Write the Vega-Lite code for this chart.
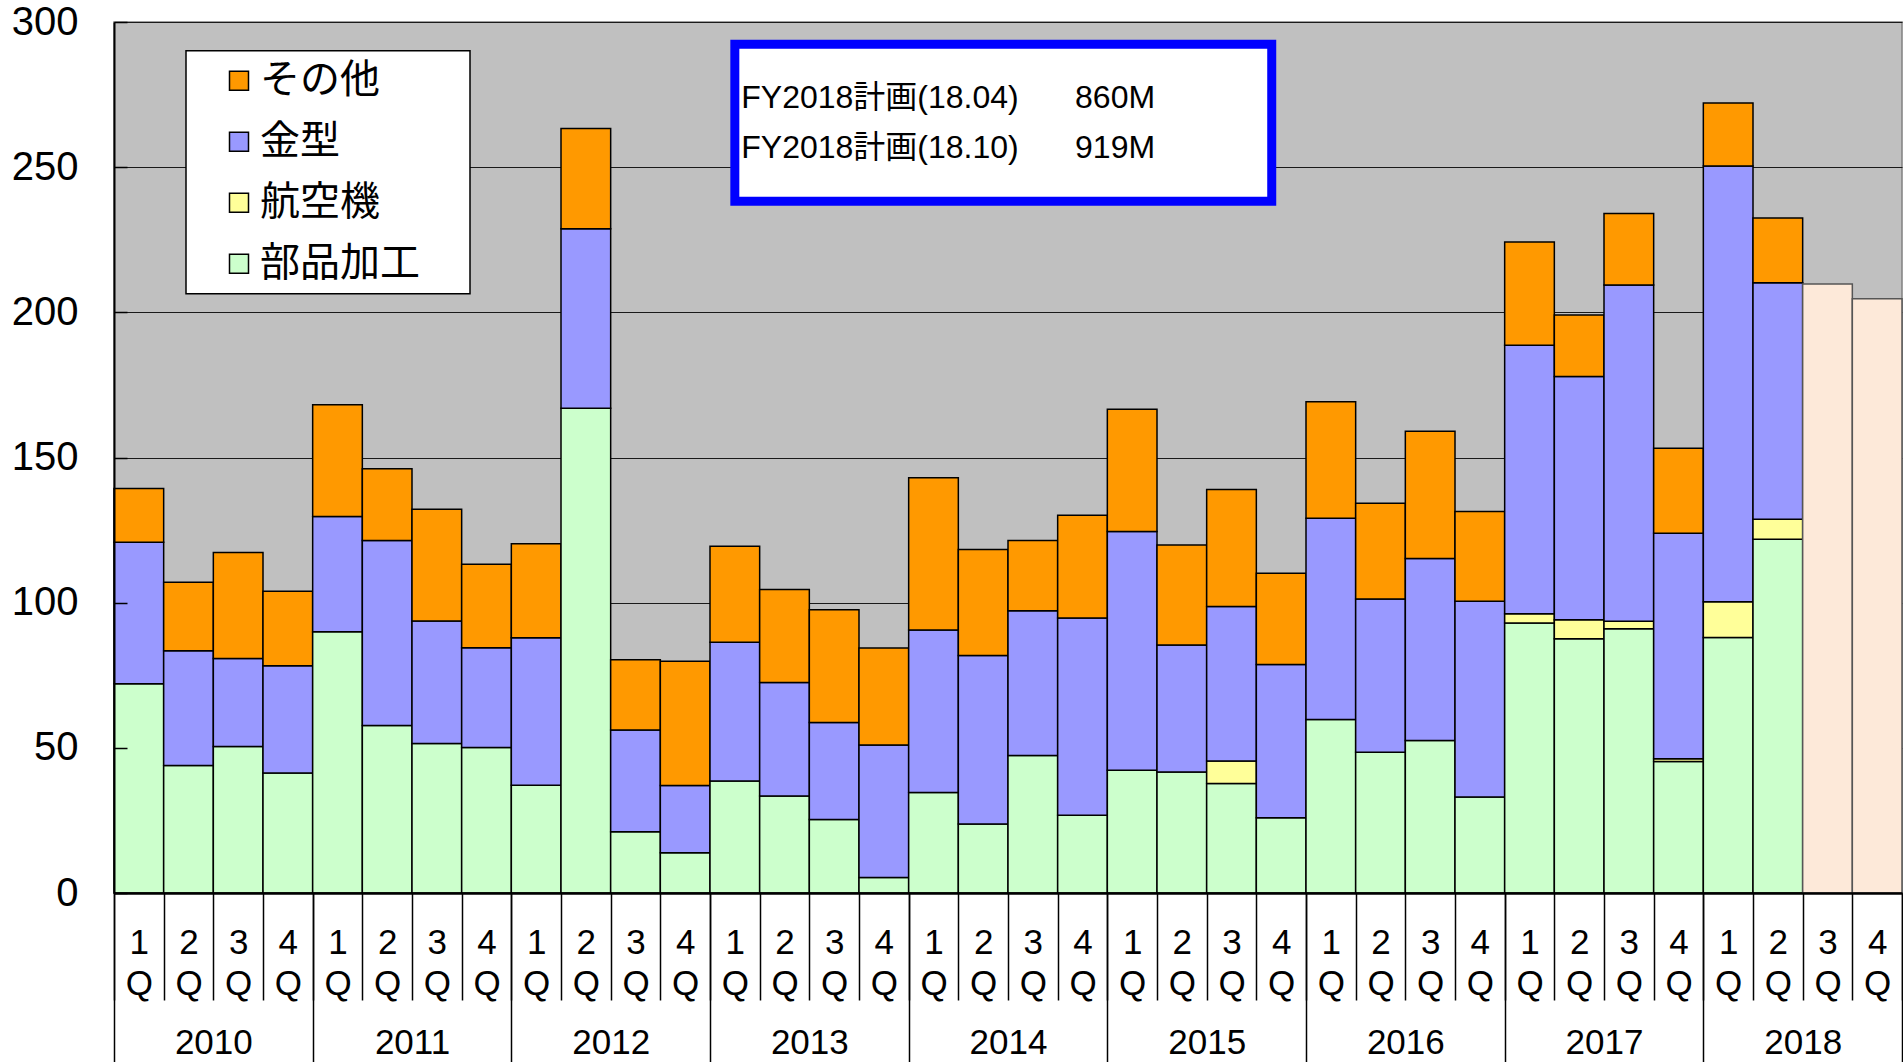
{
  "$schema": "https://vega.github.io/schema/vega-lite/v6.json",
  "width": 1788,
  "height": 871,
  "autosize": {"type": "none"},
  "padding": {"left": 114, "top": 22, "right": 1, "bottom": 169},
  "background": "white",
  "config": {
    "view": {"fill": "#C0C0C0", "stroke": "#808080", "strokeWidth": 1.5},
    "font": "Liberation Sans",
    "legend": {"strokeWidth": 1.5}
  },
  "datasets": {
    "sales": [
      {"period": "2010-1", "部品加工": 72.1, "航空機": 0, "金型": 48.7, "その他": 18.5},
      {"period": "2010-2", "部品加工": 43.9, "航空機": 0, "金型": 39.5, "その他": 23.6},
      {"period": "2010-3", "部品加工": 50.5, "航空機": 0, "金型": 30.3, "その他": 36.5},
      {"period": "2010-4", "部品加工": 41.3, "航空機": 0, "金型": 37.0, "その他": 25.6},
      {"period": "2011-1", "部品加工": 90.0, "航空機": 0, "金型": 39.7, "その他": 38.5},
      {"period": "2011-2", "部品加工": 57.7, "航空機": 0, "金型": 63.7, "その他": 24.7},
      {"period": "2011-3", "部品加工": 51.5, "航空機": 0, "金型": 42.2, "その他": 38.5},
      {"period": "2011-4", "部品加工": 50.1, "航空機": 0, "金型": 34.4, "その他": 28.7},
      {"period": "2012-1", "部品加工": 37.1, "航空機": 0, "金型": 50.8, "その他": 32.4},
      {"period": "2012-2", "部品加工": 167.0, "航空機": 0, "金型": 61.8, "その他": 34.5},
      {"period": "2012-3", "部品加工": 21.1, "航空機": 0, "金型": 35.0, "その他": 24.2},
      {"period": "2012-4", "部品加工": 13.9, "航空機": 0, "金型": 23.1, "その他": 42.8},
      {"period": "2013-1", "部品加工": 38.6, "航空機": 0, "金型": 47.8, "その他": 33.0},
      {"period": "2013-2", "部品加工": 33.4, "航空機": 0, "金型": 39.1, "その他": 32.0},
      {"period": "2013-3", "部品加工": 25.3, "航空機": 0, "金型": 33.4, "その他": 38.9},
      {"period": "2013-4", "部品加工": 5.3, "航空機": 0, "金型": 45.7, "その他": 33.4},
      {"period": "2014-1", "部品加工": 34.6, "航空機": 0, "金型": 56.0, "その他": 52.4},
      {"period": "2014-2", "部品加工": 23.8, "航空機": 0, "金型": 58.0, "その他": 36.5},
      {"period": "2014-3", "部品加工": 47.4, "航空機": 0, "金型": 49.8, "その他": 24.2},
      {"period": "2014-4", "部品加工": 26.8, "航空機": 0, "金型": 67.9, "その他": 35.4},
      {"period": "2015-1", "部品加工": 42.3, "航空機": 0, "金型": 82.2, "その他": 42.1},
      {"period": "2015-2", "部品加工": 41.7, "航空機": 0, "金型": 43.7, "その他": 34.5},
      {"period": "2015-3", "部品加工": 37.7, "航空機": 7.8, "金型": 53.2, "その他": 40.3},
      {"period": "2015-4", "部品加工": 25.9, "航空機": 0, "金型": 52.8, "その他": 31.4},
      {"period": "2016-1", "部品加工": 59.8, "航空機": 0, "金型": 69.3, "その他": 40.1},
      {"period": "2016-2", "部品加工": 48.5, "航空機": 0, "金型": 52.8, "その他": 32.9},
      {"period": "2016-3", "部品加工": 52.5, "航空機": 0, "金型": 62.7, "その他": 43.8},
      {"period": "2016-4", "部品加工": 33.1, "航空機": 0, "金型": 67.4, "その他": 30.9},
      {"period": "2017-1", "部品加工": 93.0, "航空機": 3.2, "金型": 92.5, "その他": 35.5},
      {"period": "2017-2", "部品加工": 87.6, "航空機": 6.5, "金型": 83.8, "その他": 21.2},
      {"period": "2017-3", "部品加工": 91.0, "航空機": 2.6, "金型": 115.8, "その他": 24.6},
      {"period": "2017-4", "部品加工": 45.3, "航空機": 0.9, "金型": 77.7, "その他": 29.3},
      {"period": "2018-1", "部品加工": 88.0, "航空機": 12.3, "金型": 150.1, "その他": 21.7},
      {"period": "2018-2", "部品加工": 121.8, "航空機": 6.9, "金型": 81.5, "その他": 22.3}
    ],
    "plan": [
      {"period": "2018-3", "plan": 209.8},
      {"period": "2018-4", "plan": 204.7}
    ],
    "notes": [
      {"plan": "FY2018計画(18.04)", "amount": "860M"},
      {"plan": "FY2018計画(18.10)", "amount": "919M"}
    ]
  },
  "resolve": {"axis": {"x": "independent", "y": "independent"}},
  "layer": [
    {
      "data": {"name": "sales"},
      "transform": [
        {"fold": ["部品加工", "航空機", "金型", "その他"], "as": ["segment", "value"]},
        {"filter": "datum.value > 0"},
        {"calculate": "indexof(['部品加工','航空機','金型','その他'], datum.segment)", "as": "stackOrder"}
      ],
      "mark": {"type": "bar", "stroke": "black", "strokeWidth": 1.5},
      "encoding": {
        "x": {
          "field": "period", "type": "nominal", "sort": null,
          "scale": {
            "domain": ["2010-1","2010-2","2010-3","2010-4","2011-1","2011-2","2011-3","2011-4","2012-1","2012-2","2012-3","2012-4","2013-1","2013-2","2013-3","2013-4","2014-1","2014-2","2014-3","2014-4","2015-1","2015-2","2015-3","2015-4","2016-1","2016-2","2016-3","2016-4","2017-1","2017-2","2017-3","2017-4","2018-1","2018-2","2018-3","2018-4"],
            "paddingInner": 0, "paddingOuter": 0
          },
          "axis": {
            "title": null, "orient": "bottom", "grid": false,
            "tickBand": "extent", "tickSize": 107, "tickColor": "black", "tickWidth": 1.5,
            "domain": true, "domainColor": "black", "domainWidth": 2.5,
            "labelExpr": "isString(datum.value) ? [slice(datum.value, 5), 'Q'] : ''",
            "labelFont": "Liberation Sans", "labelFontSize": 35, "labelColor": "black",
            "labelLineHeight": 41, "labelPadding": -75, "labelAngle": 0, "zindex": 1
          }
        },
        "y": {
          "field": "value", "type": "quantitative", "stack": "zero",
          "scale": {"domain": [0, 300], "nice": false},
          "axis": {
            "title": null, "orient": "left", "grid": true, "gridColor": "#1a1a1a", "gridWidth": 1.2,
            "values": [0, 50, 100, 150, 200, 250, 300],
            "labels": false, "ticks": false, "domain": false, "zindex": 0
          }
        },
        "color": {
          "field": "segment", "type": "nominal",
          "scale": {"domain": ["その他", "金型", "航空機", "部品加工"], "range": ["#FF9900", "#9999FF", "#FFFF99", "#CCFFCC"]},
          "legend": {
            "orient": "none", "legendX": 72, "legendY": 28.7, "title": null,
            "fillColor": "white", "strokeColor": "black", "padding": 10,
            "symbolType": "square", "symbolSize": 361, "symbolStrokeColor": "black", "symbolStrokeWidth": 1.5,
            "symbolOffset": 23, "symbolOpacity": 1, "labelOffset": 1,
            "labelFont": "Noto Sans CJK JP", "labelFontSize": 40, "labelColor": "black", "labelLimit": 400,
            "rowPadding": 21, "labelExpr": "datum.label + '\u3000\u200B'"
          }
        },
        "order": {"field": "stackOrder", "type": "quantitative", "sort": "ascending"}
      }
    },
    {
      "data": {"name": "plan"},
      "mark": {"type": "bar", "fill": "#FDE9D9", "stroke": "#555555", "strokeWidth": 1.5},
      "encoding": {
        "x": {
          "field": "period", "type": "nominal", "sort": null,
          "axis": {
            "title": null, "orient": "bottom", "grid": false,
            "values": ["2010-1","2010-4","2011-4","2012-4","2013-4","2014-4","2015-4","2016-4","2017-4","2018-4"],
            "tickBand": "extent", "tickSize": 169, "tickColor": "black", "tickWidth": 1.5,
            "tickOpacity": {"condition": {"test": "datum.value === '2010-1'", "value": 0}, "value": 1},
            "domain": false,
            "labelExpr": "isString(datum.value) && slice(datum.value, 5) == '4' ? slice(datum.value, 0, 4) : ''",
            "labelOffset": -74.5, "labelPadding": -37,
            "labelFont": "Liberation Sans", "labelFontSize": 35, "labelColor": "black", "labelAngle": 0, "zindex": 1
          }
        },
        "y": {
          "field": "plan", "type": "quantitative",
          "scale": {"domain": [0, 300], "nice": false},
          "axis": {
            "title": null, "orient": "left", "grid": false,
            "values": [0, 50, 100, 150, 200, 250, 300],
            "tickSize": -13, "tickColor": "black", "tickWidth": 1.5,
            "domain": true, "domainColor": "black", "domainWidth": 2,
            "labelFont": "Liberation Sans", "labelFontSize": 40, "labelColor": "black", "labelPadding": 49, "zindex": 1
          }
        }
      }
    },
    {
      "data": {"values": [{}]},
      "mark": {"type": "rect", "fill": "white", "stroke": "#0000FF", "strokeWidth": 9},
      "encoding": {
        "x": {"datum": "2013-1", "type": "nominal", "bandPosition": 0.5, "axis": null},
        "x2": {"datum": "2015-4", "bandPosition": 0.31},
        "y": {"datum": 292.3, "type": "quantitative", "axis": null},
        "y2": {"datum": 238.3}
      }
    },
    {
      "data": {"name": "notes"},
      "layer": [
        {
          "transform": [{"filter": "datum.amount === '860M'"}],
          "mark": {"type": "text", "align": "left", "baseline": "middle", "fontSize": 32, "font": "Liberation Sans, Noto Sans CJK JP", "color": "black"},
          "encoding": {
            "x": {"datum": "2013-1", "type": "nominal", "bandPosition": 0.63, "axis": null},
            "y": {"datum": 273.7, "type": "quantitative", "axis": null},
            "text": {"field": "plan"}
          }
        },
        {
          "transform": [{"filter": "datum.amount === '860M'"}],
          "mark": {"type": "text", "align": "left", "baseline": "middle", "fontSize": 32, "font": "Liberation Sans, Noto Sans CJK JP", "color": "black"},
          "encoding": {
            "x": {"datum": "2014-4", "type": "nominal", "bandPosition": 0.35, "axis": null},
            "y": {"datum": 273.7, "type": "quantitative", "axis": null},
            "text": {"field": "amount"}
          }
        },
        {
          "transform": [{"filter": "datum.amount === '919M'"}],
          "mark": {"type": "text", "align": "left", "baseline": "middle", "fontSize": 32, "font": "Liberation Sans, Noto Sans CJK JP", "color": "black"},
          "encoding": {
            "x": {"datum": "2013-1", "type": "nominal", "bandPosition": 0.63, "axis": null},
            "y": {"datum": 256.5, "type": "quantitative", "axis": null},
            "text": {"field": "plan"}
          }
        },
        {
          "transform": [{"filter": "datum.amount === '919M'"}],
          "mark": {"type": "text", "align": "left", "baseline": "middle", "fontSize": 32, "font": "Liberation Sans, Noto Sans CJK JP", "color": "black"},
          "encoding": {
            "x": {"datum": "2014-4", "type": "nominal", "bandPosition": 0.35, "axis": null},
            "y": {"datum": 256.5, "type": "quantitative", "axis": null},
            "text": {"field": "amount"}
          }
        }
      ]
    }
  ]
}
